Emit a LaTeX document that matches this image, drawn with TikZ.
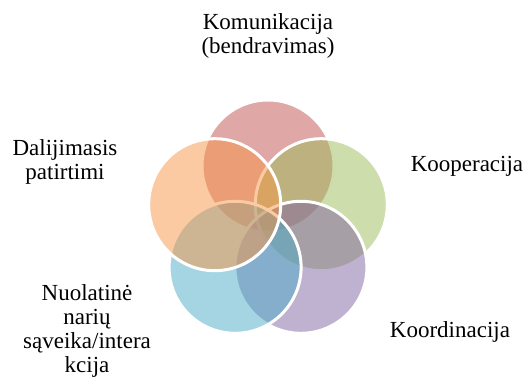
\documentclass[tikz,border=0pt]{standalone}
\usepackage{fontspec}
\setmainfont{Liberation Serif}
\definecolor{cRed}{HTML}{C0504D}
\definecolor{cGreen}{HTML}{9BBB59}
\definecolor{cPurple}{HTML}{8064A2}
\definecolor{cBlue}{HTML}{4BACC6}
\definecolor{cOrange}{HTML}{F79646}
\begin{document}
\begin{tikzpicture}[x=1pt,y=-1pt,
  venn/.style={circle, draw=white, line width=3pt, fill opacity=0.5, draw opacity=1, minimum size=132pt, inner sep=0pt},
  lbl/.style={align=center, font=\fontsize{23}{24}\selectfont, inner sep=0pt, anchor=north, text=black}]
\useasboundingbox (0,0) rectangle (531,380);
\node[venn, fill=cRed]    (c1) at (268,166) {};
\node[venn, fill=cGreen]  (c2) at (321.3,204.7) {};
\node[venn, fill=cPurple] (c3) at (300.9,267.3) {};
\node[venn, fill=cBlue]   (c4) at (235.1,267.3) {};
\node[venn, fill=cOrange] (c5) at (214.7,204.7) {};
\node[lbl] (l1) at (268,13) {Komunikacija\\(bendravimas)};
\node[lbl] (l2) at (467,156) {Kooperacija};
\node[lbl] (l3) at (450,321) {Koordinacija};
\node[lbl] (l4) at (87,284) {Nuolatinė\\narių\\sąveika/intera\\kcija};
\node[lbl] (l5) at (65,139) {Dalijimasis\\patirtimi};
\end{tikzpicture}
\end{document}
